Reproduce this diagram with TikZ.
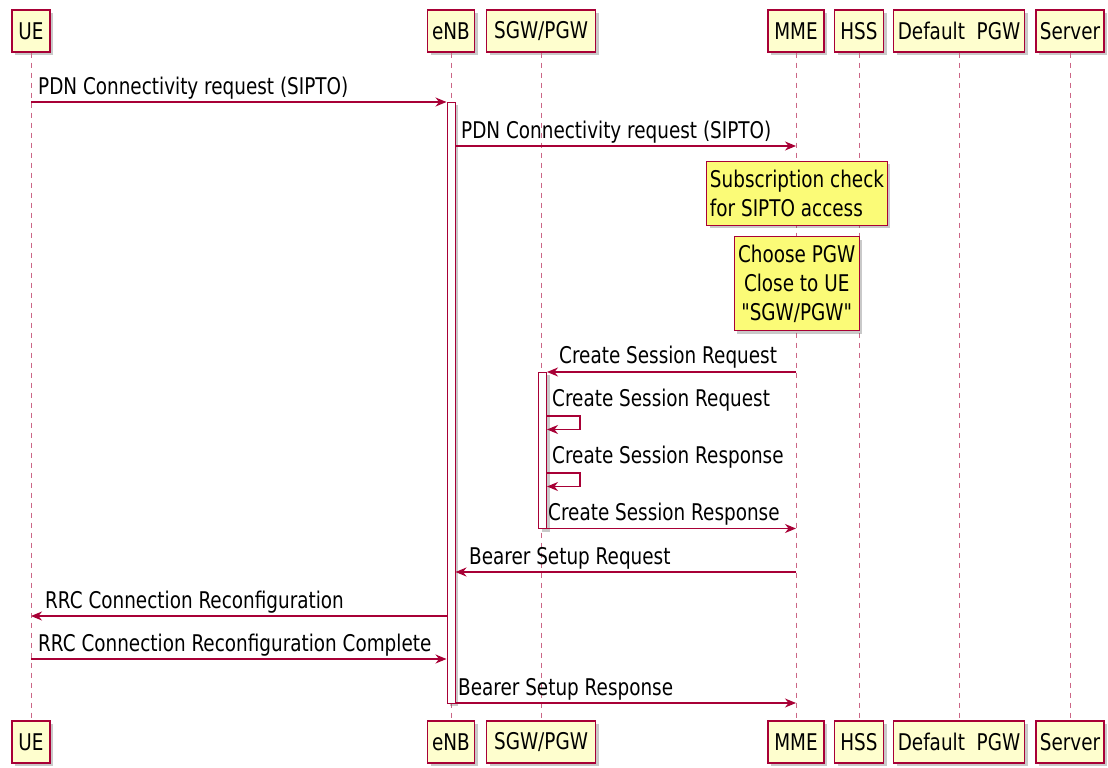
\documentclass[tikz,border=0pt]{standalone}
\usepackage{fontspec}
\setmainfont[FakeStretch=0.8, Ligatures=TeXOff]{DejaVu Sans}
\usepackage{xcolor}
\usetikzlibrary{arrows.meta, shadows}
\definecolor{umlline}{HTML}{A80036}
\definecolor{umlbox}{HTML}{FEFECE}
\definecolor{umlnote}{HTML}{FBFB77}

\begin{document}
\begin{tikzpicture}[
		x=1pt, y=-1pt,
		font=\fontsize{23}{29}\selectfont,
		shade/.style={drop shadow={shadow xshift=3pt, shadow yshift=-3pt, opacity=0.35, fill=black!60}},
		part/.style={draw=umlline, fill=umlbox, line width=1.2pt, minimum height=42pt, inner sep=0pt, shade},
		actbar/.style={draw=umlline, fill=white, line width=1pt, minimum width=8pt, inner sep=0pt, shade},
		note/.style={draw=umlline, fill=umlnote, line width=1pt, inner sep=0pt, shade},
		life/.style={umlline!60, dash pattern=on 5pt off 5pt, line width=1pt},
		msg/.style={-{Stealth[length=11pt, width=9pt, inset=3.5pt]}, umlline, line width=1.2pt},
		lbl/.style={anchor=base west, inner sep=0pt}
	]
	\path[use as bounding box, fill=white] (0,0) rectangle (1108,768);

	% Participants (top)
	\node[part, minimum width=38pt] (ueT) at (31,31) {UE};
	\node[part, minimum width=47pt] (enbT) at (451,31) {eNB};
	\node[part, minimum width=109pt] (sgwT) at (541,31) {SGW/PGW};
	\node[part, minimum width=56pt] (mmeT) at (796,31) {MME};
	\node[part, minimum width=49pt] (hssT) at (859,31) {HSS};
	\node[part, minimum width=131pt] (pgwT) at (959,31) {Default\ \ PGW};
	\node[part, minimum width=68pt] (srvT) at (1070,31) {Server};

	% Participants (bottom)
	\node[part, minimum width=38pt] (ueB) at (31,742) {UE};
	\node[part, minimum width=47pt] (enbB) at (451,742) {eNB};
	\node[part, minimum width=109pt] (sgwB) at (541,742) {SGW/PGW};
	\node[part, minimum width=56pt] (mmeB) at (796,742) {MME};
	\node[part, minimum width=49pt] (hssB) at (859,742) {HSS};
	\node[part, minimum width=131pt] (pgwB) at (959,742) {Default\ \ PGW};
	\node[part, minimum width=68pt] (srvB) at (1070,742) {Server};

	% Lifelines
	\draw[life] (ueT) -- (ueB);
	\draw[life] (enbT) -- (enbB);
	\draw[life] (sgwT) -- (sgwB);
	\draw[life] (mmeT) -- (mmeB);
	\draw[life] (hssT) -- (hssB);
	\draw[life] (pgwT) -- (pgwB);
	\draw[life] (srvT) -- (srvB);

	% Activations
	\node[actbar, minimum height=601pt] (enbAct) at (451,402.5) {};
	\node[actbar, minimum height=156.5pt] (sgwAct) at (542.5,450.25) {};

	% Message rows
	\coordinate (m1) at (0,102);
	\coordinate (m2) at (0,146);
	\coordinate (m3) at (0,372);
	\coordinate (s1) at (0,416);
	\coordinate (s2) at (0,473);
	\coordinate (m6) at (0,528.5);
	\coordinate (m7) at (0,572);
	\coordinate (m8) at (0,616);
	\coordinate (m9) at (0,659);
	\coordinate (m10) at (0,703);

	% Messages
	\draw[msg] (ueT |- m1) -- (enbAct.west |- m1);
	\node[lbl] (l1) at (38,94.5) {PDN Connectivity request (SIPTO)};
	\draw[msg] (enbAct.east |- m2) -- (mmeT |- m2);
	\node[lbl] (l2) at (461,138.5) {PDN Connectivity request (SIPTO)};

	% Notes over MME
	\node[note, align=left, minimum width=180.6pt, minimum height=64pt] (n1) at (797,193) {Subscription check\\for SIPTO access};
	\node[note, align=center, minimum width=124.7pt, minimum height=94pt] (n2) at (796.7,283.7) {Choose PGW\\Close to UE\\"SGW/PGW"};

	\draw[msg] (mmeT |- m3) -- (sgwAct.east |- m3);
	\node[lbl] (l3) at (559,363) {Create Session Request};
	\draw[msg] (sgwAct.east |- s1) -- ++(33,0) -- ++(0,13.5) -- ++(-33,0);
	\node[lbl] (l4) at (552,406.5) {Create Session Request};
	\draw[msg] (sgwAct.east |- s2) -- ++(33,0) -- ++(0,13.5) -- ++(-33,0);
	\node[lbl] (l5) at (552,463) {Create Session Response};
	\draw[msg] (sgwAct.east |- m6) -- (mmeT |- m6);
	\node[lbl] (l6) at (548,520) {Create Session Response};
	\draw[msg] (mmeT |- m7) -- (enbAct.east |- m7);
	\node[lbl] (l7) at (469,564) {Bearer Setup Request};
	\draw[msg] (enbAct.west |- m8) -- (ueT |- m8);
	\node[lbl] (l8) at (45,608) {RRC Connection Reconfiguration};
	\draw[msg] (ueT |- m9) -- (enbAct.west |- m9);
	\node[lbl] (l9) at (38,651) {RRC Connection Reconfiguration Complete};
	\draw[msg] (enbAct.east |- m10) -- (mmeT |- m10);
	\node[lbl] (l10) at (458,695) {Bearer Setup Response};

\end{tikzpicture}
\end{document}
